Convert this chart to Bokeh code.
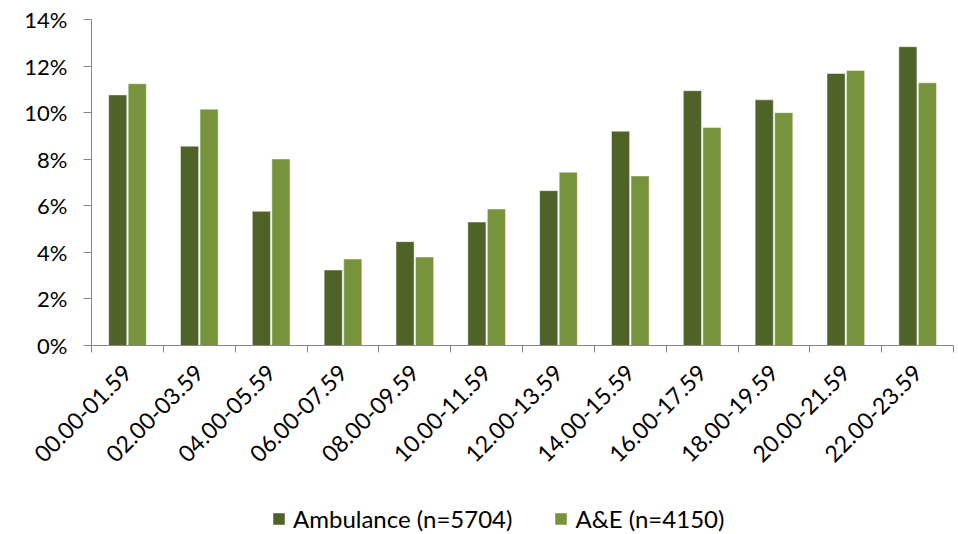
import math

from bokeh.embed import file_html
from bokeh.layouts import column
from bokeh.models import (ColumnDataSource, CustomJSTickFormatter, FixedTicker,
                          LinearAxis, Legend, LegendItem, PrintfTickFormatter,
                          Range1d)
from bokeh.plotting import figure
from bokeh.resources import INLINE

# Share of attendances by two-hour time band (%)
time_bands = ["00.00-01.59", "02.00-03.59", "04.00-05.59", "06.00-07.59",
              "08.00-09.59", "10.00-11.59", "12.00-13.59", "14.00-15.59",
              "16.00-17.59", "18.00-19.59", "20.00-21.59", "22.00-23.59"]
ambulance = [10.76, 8.56, 5.76, 3.24, 4.46, 5.30, 6.65, 9.20, 10.94, 10.55, 11.68, 12.83]
ae = [11.24, 10.15, 8.01, 3.71, 3.80, 5.86, 7.44, 7.28, 9.36, 10.00, 11.81, 11.28]
series_names = ["Ambulance (n=5704)", "A&E (n=4150)"]
y_ticks = [0, 2, 4, 6, 8, 10, 12, 14]

DARK = "#4F6228"
LIGHT = "#77933C"
AXIS = "#868686"
FONT = "Lato"

idx = list(range(len(time_bands)))
src = ColumnDataSource(dict(
    x_amb=[i - 0.135 for i in idx],
    x_ae=[i + 0.137 for i in idx],
    amb=ambulance,
    ae=ae,
))
bar_style = dict(width=0.252, line_color="white", line_alpha=0.45, line_width=1)

p = figure(width=958, height=497, output_backend="svg", toolbar_location=None,
           x_range=Range1d(-0.5, len(time_bands) - 0.5), y_range=Range1d(0, 14),
           x_axis_location=None, y_axis_location=None,
           min_border_left=91, min_border_right=5, min_border_top=19,
           min_border_bottom=152)
p.outline_line_color = None
p.grid.visible = False
p.background_fill_color = "white"
p.border_fill_color = "white"

p.vbar(x="x_amb", top="amb", source=src, fill_color=DARK, **bar_style)
p.vbar(x="x_ae", top="ae", source=src, fill_color=LIGHT, **bar_style)

# y axis with percent labels
yaxis = LinearAxis(ticker=FixedTicker(ticks=y_ticks),
                   formatter=PrintfTickFormatter(format="%d%%"))
yaxis.axis_line_color = AXIS
yaxis.major_tick_line_color = AXIS
yaxis.major_tick_out = 8
yaxis.major_tick_in = 0
yaxis.minor_tick_line_color = None
yaxis.major_label_text_font = FONT
yaxis.major_label_text_font_size = "22px"
yaxis.major_label_text_color = "black"
yaxis.major_label_standoff = 16
p.add_layout(yaxis, "left")

# x axis line with tick marks at the band boundaries
xticks_axis = LinearAxis(ticker=FixedTicker(ticks=[i - 0.5 for i in range(len(time_bands) + 1)]),
                         formatter=CustomJSTickFormatter(code="return ''"))
xticks_axis.axis_line_color = AXIS
xticks_axis.major_tick_line_color = AXIS
xticks_axis.major_tick_out = 7
xticks_axis.major_tick_in = 0
xticks_axis.minor_tick_line_color = None
xticks_axis.major_label_standoff = 0
p.add_layout(xticks_axis, "below")

# rotated band labels at the band centres
xlabel_axis = LinearAxis(ticker=FixedTicker(ticks=idx),
                         major_label_overrides={i: t for i, t in zip(idx, time_bands)})
xlabel_axis.axis_line_color = None
xlabel_axis.major_tick_line_color = None
xlabel_axis.minor_tick_line_color = None
xlabel_axis.major_label_orientation = math.pi / 4
xlabel_axis.major_label_text_font = FONT
xlabel_axis.major_label_text_font_size = "23px"
xlabel_axis.major_label_text_color = "black"
xlabel_axis.major_label_standoff = 10
p.add_layout(xlabel_axis, "below")

# legend strip under the chart; its swatches take the bar styles
leg = figure(width=958, height=37, output_backend="svg", toolbar_location=None,
             x_range=Range1d(0, 1), y_range=Range1d(100, 101),
             x_axis_location=None, y_axis_location=None,
             min_border_left=0, min_border_right=0, min_border_top=0,
             min_border_bottom=0)
leg.outline_line_color = None
leg.grid.visible = False
sw_amb = leg.vbar(x="x_amb", top="amb", source=src, fill_color=DARK, **bar_style)
sw_ae = leg.vbar(x="x_ae", top="ae", source=src, fill_color=LIGHT, **bar_style)

legend = Legend(items=[LegendItem(label=series_names[0], renderers=[sw_amb]),
                       LegendItem(label=series_names[1], renderers=[sw_ae])],
                orientation="horizontal", location=(180, 1))
legend.border_line_color = None
legend.background_fill_alpha = 0
legend.label_text_font = FONT
legend.label_text_font_size = "24px"
legend.label_text_color = "black"
legend.glyph_width = 15
legend.glyph_height = 15
legend.label_standoff = 7
legend.spacing = 41
legend.padding = 0
legend.margin = 0
leg.add_layout(legend, "center")

open("out.html", "w").write(file_html(column(p, leg, spacing=0), INLINE))
